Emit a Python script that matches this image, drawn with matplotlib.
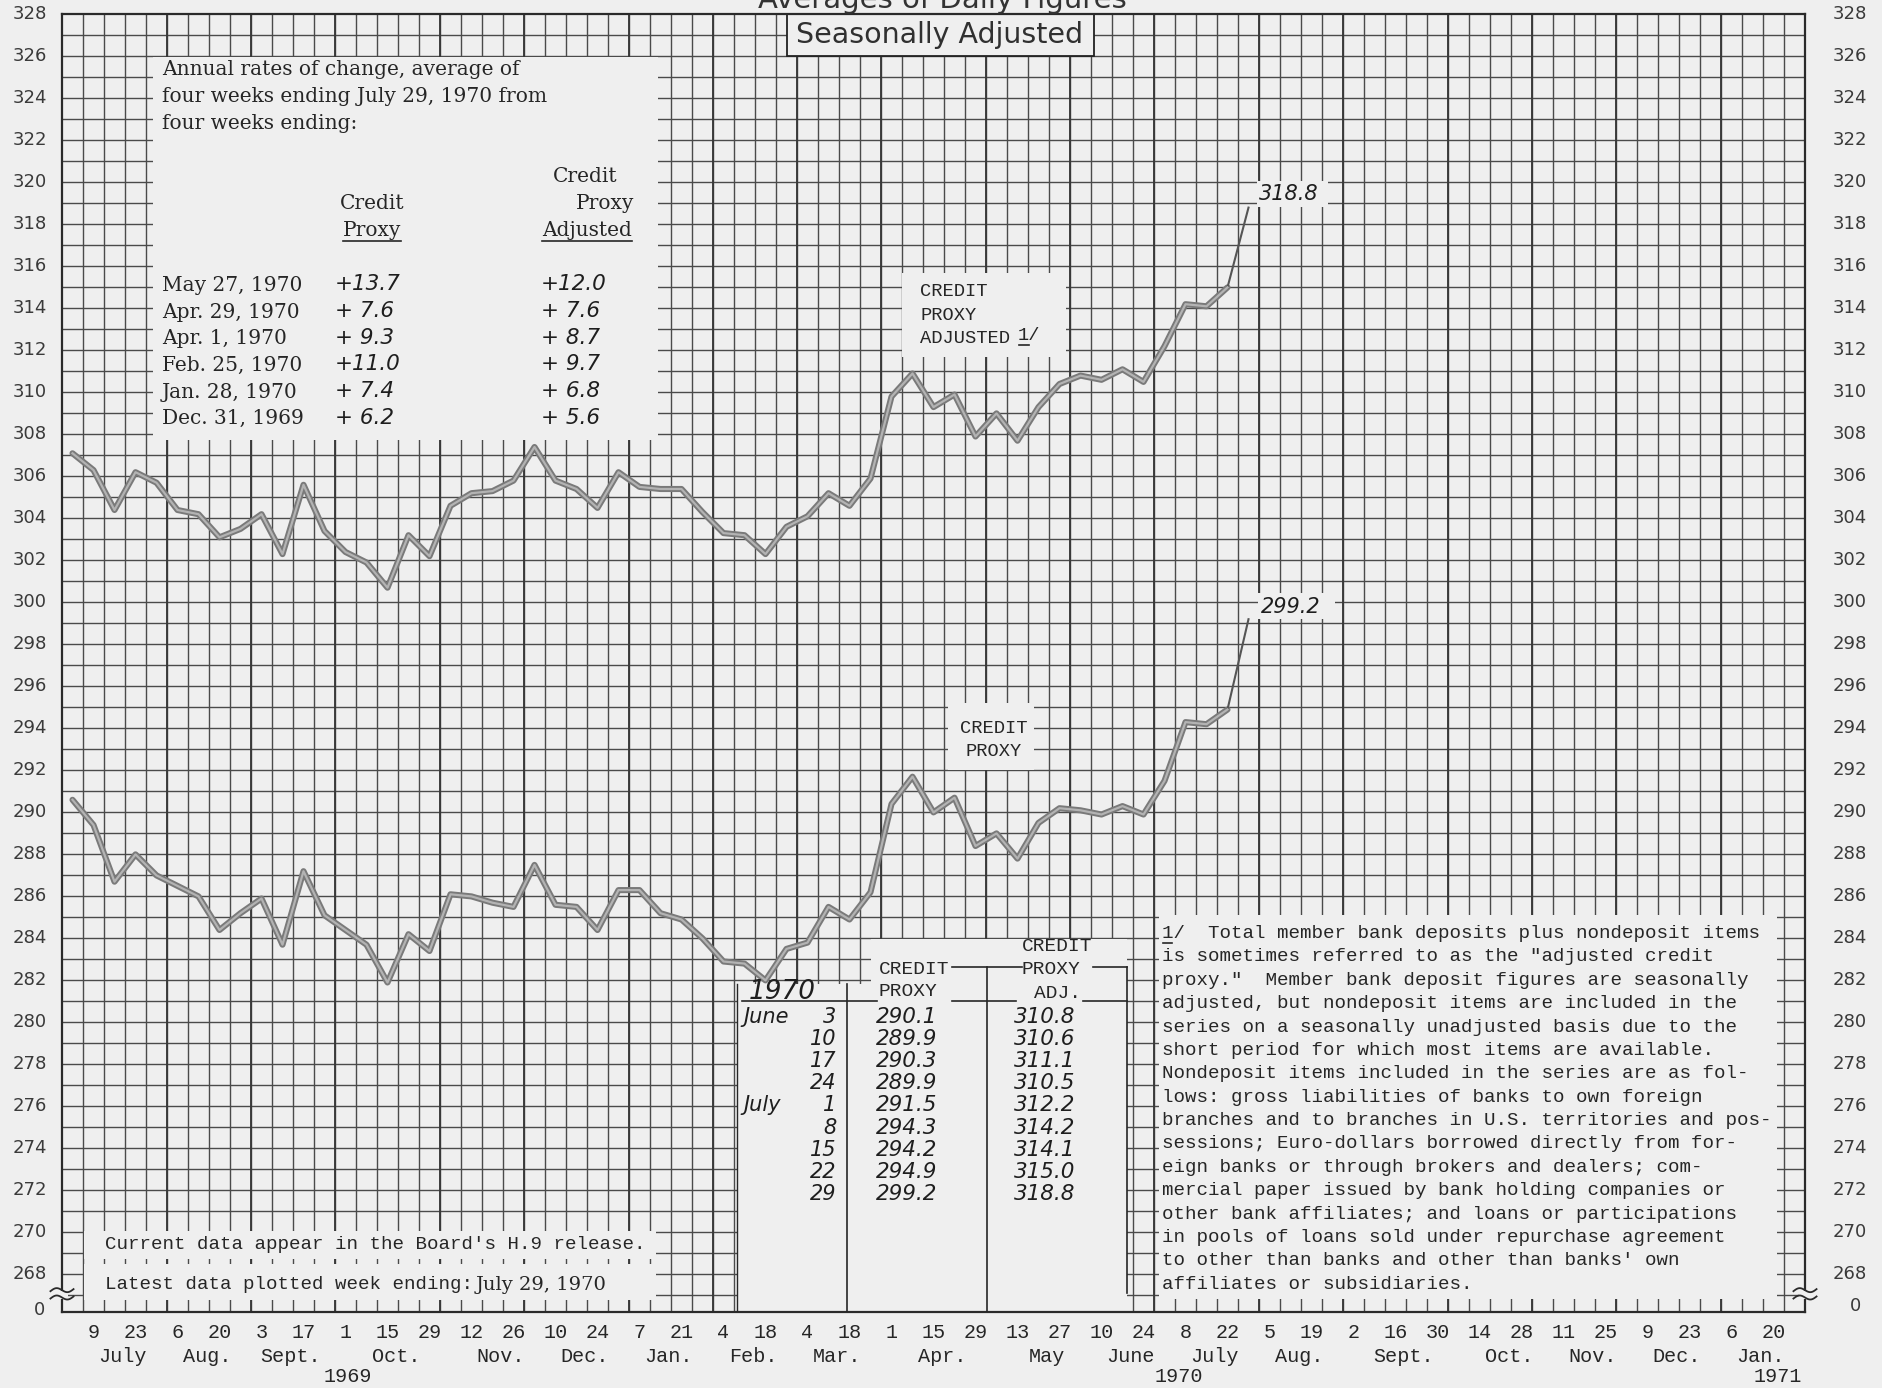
import datetime as dt
import numpy as np
import matplotlib
matplotlib.use("Agg")
import matplotlib.pyplot as plt
from matplotlib import font_manager, transforms
from matplotlib.patches import Rectangle

# weekly figures (Wednesdays), July 2, 1969 through July 29, 1970
first_week = dt.date(1969, 7, 2)
credit_proxy = [290.6, 289.4, 286.7, 288.0, 287.0, 286.5, 286.0, 284.4, 285.2, 285.9,
                283.7, 287.2, 285.1, 284.4, 283.7, 281.9, 284.2, 283.4, 286.1, 286.0,
                285.7, 285.5, 287.5, 285.6, 285.5, 284.4, 286.3, 286.3, 285.2, 284.9,
                284.0, 282.9, 282.8, 282.0, 283.5, 283.8, 285.5, 284.9, 286.2, 290.4,
                291.7, 290.0, 290.7, 288.4, 289.0, 287.8, 289.5, 290.2, 290.1, 289.9,
                290.3, 289.9, 291.5, 294.3, 294.2, 294.9, 299.2]
credit_proxy_adjusted = [307.1, 306.3, 304.4, 306.2, 305.7, 304.4, 304.2, 303.1, 303.5, 304.2,
                         302.3, 305.6, 303.4, 302.4, 301.9, 300.7, 303.2, 302.2, 304.6, 305.2,
                         305.3, 305.8, 307.4, 305.8, 305.4, 304.5, 306.2, 305.5, 305.4, 305.4,
                         304.3, 303.3, 303.2, 302.3, 303.6, 304.1, 305.2, 304.6, 305.9, 309.8,
                         310.9, 309.3, 309.9, 307.9, 309.0, 307.7, 309.3, 310.4, 310.8, 310.6,
                         311.1, 310.5, 312.2, 314.2, 314.1, 315.0, 318.8]

# axis labels
tick_days = ["9", "23", "6", "20", "3", "17", "1", "15", "29", "12", "26", "10", "24", "7",
             "21", "4", "18", "4", "18", "1", "15", "29", "13", "27", "10", "24", "8", "22",
             "5", "19", "2", "16", "30", "14", "28", "11", "25", "9", "23", "6", "20"]
month_names = ["July", "Aug.", "Sept.", "Oct.", "Nov.", "Dec.", "Jan.", "Feb.", "Mar.", "Apr.",
               "May", "June", "July", "Aug.", "Sept.", "Oct.", "Nov.", "Dec.", "Jan."]
year_labels = ["1969", "1970", "1971"]
y_ticks = list(range(268, 329, 2))

# annual rates table (upper left)
rate_dates = ["May 27, 1970", "Apr. 29, 1970", "Apr. 1, 1970", "Feb. 25, 1970",
              "Jan. 28, 1970", "Dec. 31, 1969"]
rate_proxy = ["+13.7", "+ 7.6", "+ 9.3", "+11.0", "+ 7.4", "+ 6.2"]
rate_adjusted = ["+12.0", "+ 7.6", "+ 8.7", "+ 9.7", "+ 6.8", "+ 5.6"]

# recent weeks table
recent_months = ["June", "", "", "", "July", "", "", "", ""]
recent_days = ["3", "10", "17", "24", "1", "8", "15", "22", "29"]

footnote = [
    "1/  Total member bank deposits plus nondeposit items",
    "is sometimes referred to as the \"adjusted credit",
    "proxy.\"  Member bank deposit figures are seasonally",
    "adjusted, but nondeposit items are included in the",
    "series on a seasonally unadjusted basis due to the",
    "short period for which most items are available.",
    "Nondeposit items included in the series are as fol-",
    "lows: gross liabilities of banks to own foreign",
    "branches and to branches in U.S. territories and pos-",
    "sessions; Euro-dollars borrowed directly from for-",
    "eign banks or through brokers and dealers; com-",
    "mercial paper issued by bank holding companies or",
    "other bank affiliates; and loans or participations",
    "in pools of loans sold under repurchase agreement",
    "to other than banks and other than banks' own",
    "affiliates or subsidiaries.",
]

available = {f.name for f in font_manager.fontManager.ttflist}


def pick(*names):
    for n in names:
        if n in available:
            return n
    return "DejaVu Sans"


MONO = pick("Liberation Mono", "DejaVu Sans Mono")
SERIF = "DejaVu Serif"
SANS = "DejaVu Sans"
PAPER = "#efefef"
INK = "#262626"
GRID = "#4a4a4a"
HAND = dict(family=SANS, style="italic", color="#1e1e1e")

ref = dt.date(1969, 7, 9)
weeks = [((first_week + dt.timedelta(days=7 * i)) - ref).days / 7 for i in range(len(credit_proxy))]
tick_dates = [ref + dt.timedelta(days=14 * k) for k in range(len(tick_days))]
tick_weeks = [(d - ref).days / 7 for d in tick_dates]
groups = {}
for d, wk in zip(tick_dates, tick_weeks):
    groups.setdefault((d.year, d.month), []).append(wk)
month_weeks = [np.mean(v) + 0.4 for v in groups.values()]
year_weeks = [12.1, 51.7, 80.2]

month_lines = []
y, m = 1969, 8
while (y, m) <= (1971, 1):
    d = dt.date(y, m, 1)
    d += dt.timedelta(days=(2 - d.weekday()) % 7)
    month_lines.append((d - ref).days / 7 - 0.5)
    m += 1
    if m > 12:
        m, y = 1, y + 1

fig = plt.figure(figsize=(18.82, 13.88), dpi=100)
fig.patch.set_facecolor(PAPER)
ax = fig.add_axes([62 / 1882, (1388 - 1312.2) / 1388, 1743 / 1882, 1297.8 / 1388])
ax.set_facecolor(PAPER)
ax.set_xlim(-1.5, 81.5)
ax.set_ylim(266.2, 328)
ax.set_xticks([])
ax.set_yticks([])
for s in ax.spines.values():
    s.set_linewidth(1.6)
    s.set_color("#2a2a2a")

# chart paper
ax.hlines(np.arange(267, 328), -1.5, 81.5, colors=GRID, lw=1.0, zorder=1)
ax.vlines(np.arange(-0.5, 81.0, 1.0), 266.2, 328, colors=GRID, lw=1.0, zorder=1)
ax.vlines(month_lines, 266.2, 328, colors="#383838", lw=1.35, zorder=1)


def blank(x0, x1, y0, y1, edge="none"):
    ax.add_patch(Rectangle((x0, y0), x1 - x0, y1 - y0, facecolor=PAPER,
                           edgecolor=edge, lw=1.3, zorder=2))


blank(2.85, 26.9, 307.75, 325.95)
blank(33.0, 47.65, 326.0, 328.0, edge="#222222")
blank(38.5, 46.3, 311.7, 315.7)
blank(40.7, 44.8, 292.0, 295.2)
blank(30.63, 37.0, 266.2, 281.85)
blank(37.0, 49.2, 266.2, 283.95)
blank(50.72, 80.17, 266.85, 285.1)
blank(-0.47, 26.8, 268.75, 270.05)
blank(-0.47, 26.8, 266.8, 268.5)
blank(55.4, 58.8, 318.85, 320.05)
blank(55.45, 59.1, 299.2, 300.45)

# series
w = np.array(weeks)
for series in (credit_proxy, credit_proxy_adjusted):
    vals = np.array(series)
    ax.plot(w[:-1], vals[:-1], color="#7a7a7a", lw=4.4, solid_joinstyle="round",
            solid_capstyle="round", zorder=3)
    ax.plot(w[:-1], vals[:-1], color="#b3b3b3", lw=1.6, solid_joinstyle="round", zorder=3.1)
    ax.plot(w[-2:], vals[-2:], color="#555555", lw=1.5, zorder=3)
ax.text(55.5, 319.45, f"{credit_proxy_adjusted[-1]:.1f}", fontsize=15, ha="left", va="center", zorder=4, **HAND)
ax.text(55.6, 299.8, f"{credit_proxy[-1]:.1f}", fontsize=15, ha="left", va="center", zorder=4, **HAND)

renderer = fig.canvas.get_renderer()


def underline(t, yv, frac=(0.0, 1.0)):
    bb = t.get_window_extent(renderer=renderer).transformed(ax.transData.inverted())
    x0 = bb.x0 + (bb.x1 - bb.x0) * frac[0]
    x1 = bb.x0 + (bb.x1 - bb.x0) * frac[1]
    ax.plot([x0, x1], [yv, yv], color=INK, lw=1.2, zorder=4)


def txt(x, yv, s, **kw):
    kw.setdefault("color", INK)
    kw.setdefault("va", "center")
    return ax.text(x, yv, s, zorder=4, **kw)


# upper-left box
intro = ["Annual rates of change, average of", "four weeks ending July 29, 1970 from",
         "four weeks ending:"]
for i, line in enumerate(intro):
    txt(3.26, 325.37 - 1.285 * i, line, family=SERIF, fontsize=14.5)
txt(23.4, 320.29, "Credit", family=SERIF, fontsize=14.5, ha="center")
txt(13.26, 319.0, "Credit", family=SERIF, fontsize=14.5, ha="center")
txt(24.35, 319.0, "Proxy", family=SERIF, fontsize=14.5, ha="center")
t = txt(13.26, 317.71, "Proxy", family=SERIF, fontsize=14.5, ha="center")
underline(t, 317.22)
t = txt(23.5, 317.71, "Adjusted", family=SERIF, fontsize=14.5, ha="center")
underline(t, 317.22)
for i, (d, a, b) in enumerate(zip(rate_dates, rate_proxy, rate_adjusted)):
    yv = 315.09 - 1.27 * i
    txt(3.26, yv, d, family=SERIF, fontsize=14.5)
    txt(11.5, yv + 0.05, a, fontsize=15.5, **HAND)
    txt(21.3, yv + 0.05, b, fontsize=15.5, **HAND)

# title pieces
txt(40.3, 327.0, "Seasonally Adjusted", family=SANS, fontsize=20.5, ha="center", color="#303030")
fig.text(0.5005, 1 - 7.5 / 1388, "Averages of Daily Figures", family=SANS, fontsize=21,
         ha="center", va="baseline", color="#333333")

# series labels
txt(39.38, 314.8, "CREDIT", family=MONO, fontsize=13.5)
txt(39.38, 313.66, "PROXY", family=MONO, fontsize=13.5)
txt(39.38, 312.57, "ADJUSTED", family=MONO, fontsize=13.5)
t = txt(44.0, 312.7, "1/", family=MONO, fontsize=13.5)
underline(t, 312.25, (0.05, 0.5))
txt(42.86, 294.0, "CREDIT", family=MONO, fontsize=13.5, ha="center")
txt(42.86, 292.9, "PROXY", family=MONO, fontsize=13.5, ha="center")

# recent weeks table
txt(39.1, 282.5, "CREDIT", family=MONO, fontsize=14, ha="center")
txt(38.8, 281.46, "PROXY", family=MONO, fontsize=14, ha="center")
txt(45.9, 283.6, "CREDIT", family=MONO, fontsize=14, ha="center")
txt(45.6, 282.5, "PROXY", family=MONO, fontsize=14, ha="center")
txt(45.9, 281.4, "ADJ.", family=MONO, fontsize=14, ha="center")
for x0, x1 in [(30.87, 37.3), (40.87, 43.95), (47.1, 49.2)]:
    ax.plot([x0, x1], [281.03, 281.03], color=INK, lw=1.2, zorder=4)
for x0, x1 in [(40.87, 44.2), (47.6, 49.2)]:
    ax.plot([x0, x1], [282.65, 282.65], color=INK, lw=1.2, zorder=4)
ax.plot([35.87, 35.87], [266.2, 281.85], color=INK, lw=1.2, zorder=4)
ax.plot([42.53, 42.53], [266.2, 282.65], color=INK, lw=1.2, zorder=4)
ax.plot([49.2, 49.2], [267.1, 282.65], color=INK, lw=1.2, zorder=4)
ax.plot([30.63, 30.63], [266.2, 281.85], color=INK, lw=1.0, zorder=4)
txt(32.8, 281.45, "1970", fontsize=19, ha="center", **HAND)
for i, (mo, dy) in enumerate(zip(recent_months, recent_days)):
    yv = 280.27 - 1.055 * i
    if mo:
        txt(30.93, yv, mo, fontsize=15, ha="left", **HAND)
    txt(35.39, yv, dy, fontsize=15, ha="right", **HAND)
    k = len(credit_proxy) - 9 + i
    txt(38.72, yv, f"{credit_proxy[k]:.1f}", fontsize=15.5, ha="center", **HAND)
    txt(45.31, yv, f"{credit_proxy_adjusted[k]:.1f}", fontsize=15.5, ha="center", **HAND)

# footnote
for i, line in enumerate(footnote):
    t = txt(50.86, 284.23 - 1.113 * i, line, family=MONO, fontsize=13.8)
    if i == 0:
        bb = t.get_window_extent(renderer=renderer).transformed(ax.transData.inverted())
        cw = (bb.x1 - bb.x0) / len(line)
        ax.plot([bb.x0 + 0.1 * cw, bb.x0 + 0.9 * cw], [283.78, 283.78], color=INK, lw=1.2, zorder=4)

# lower-left notes
txt(0.55, 269.42, "Current data appear in the Board's H.9 release.", family=MONO, fontsize=13.8)
t = txt(0.55, 267.5, "Latest data plotted week ending:", family=MONO, fontsize=13.8)
bb = t.get_window_extent(renderer=renderer).transformed(ax.transData.inverted())
txt(bb.x1 + 0.1, 267.48, "July 29, 1970", family=SERIF, fontsize=14)

# axis labels
yl = transforms.blended_transform_factory(ax.transAxes, ax.transData)
for v in y_ticks:
    ax.text(-0.0086, v, str(v), transform=yl, ha="right", va="center", family=SANS,
            fontsize=13, color="#3a3a3a")
    ax.text(1.016, v, str(v), transform=yl, ha="left", va="center", family=SANS,
            fontsize=13, color="#3a3a3a")
ax.text(-0.0098, 266.3, "0", transform=yl, ha="right", va="center", family=SANS, fontsize=13, color="#3a3a3a")
ax.text(1.029, 266.5, "0", transform=yl, ha="center", va="center", family=SANS, fontsize=13, color="#3a3a3a")

# axis break marks
tt = np.linspace(0, 1, 40)
for xc in (-1.5, 81.5):
    ax.add_patch(Rectangle((xc - 0.3, 266.85), 0.6, 0.35, facecolor=PAPER, edgecolor="none",
                           zorder=5, clip_on=False))
    for off in (0.0, 0.35):
        ax.plot(xc - 0.55 + 1.1 * tt, 266.85 + off + 0.12 * np.sin(2 * np.pi * tt) + 0.1 * tt,
                color="#2a2a2a", lw=1.3, zorder=6, clip_on=False)

xl = transforms.blended_transform_factory(ax.transData, fig.transFigure)
for wk, lab in zip(tick_weeks, tick_days):
    ax.text(wk, 1 - 1332 / 1388, lab, transform=xl, ha="center", va="center", family=MONO,
            fontsize=14.5, color=INK)
for wk, lab in zip(month_weeks, month_names):
    ax.text(wk, 1 - 1357 / 1388, lab, transform=xl, ha="center", va="center", family=MONO,
            fontsize=14.5, color=INK)
for wk, lab in zip(year_weeks, year_labels):
    ax.text(wk, 1 - 1377 / 1388, lab, transform=xl, ha="center", va="center", family=MONO,
            fontsize=14.5, color=INK)

fig.savefig("out.png", dpi=100, facecolor=PAPER)
plt.close(fig)
